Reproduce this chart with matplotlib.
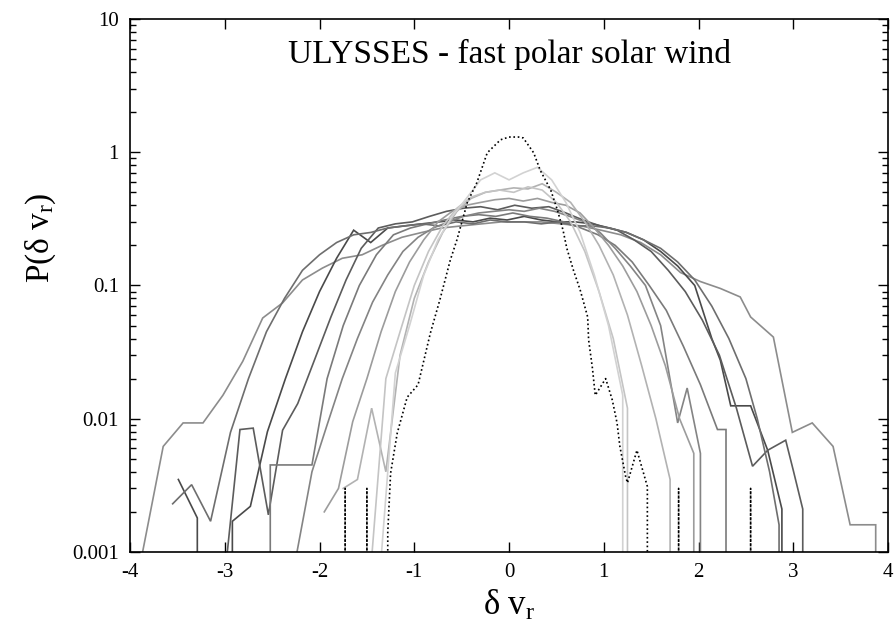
import numpy as np
import matplotlib
matplotlib.use("Agg")
import matplotlib.pyplot as plt
from matplotlib.ticker import FixedLocator, FixedFormatter, LogLocator, NullFormatter

plt.rcParams["font.family"] = ["Liberation Serif", "DejaVu Serif"]
plt.rcParams["mathtext.fontset"] = "custom"
plt.rcParams["mathtext.rm"] = "Liberation Serif"
plt.rcParams["mathtext.it"] = "Liberation Serif:italic"

# PDFs of radial velocity increments, one curve per time scale
c1_x = [-3.88, -3.65, -3.44, -3.23, -3.02, -2.81, -2.60, -2.39, -2.18, -1.97, -1.76, -1.55, -1.34,
        -1.13, -0.92, -0.71, -0.50, -0.29, -0.08, 0.13, 0.34, 0.55, 0.76, 0.97, 1.18, 1.39, 1.60,
        1.81, 2.02, 2.23, 2.44, 2.55, 2.79, 2.86, 2.99, 3.20, 3.42, 3.60, 3.87, 3.88]
c1_y = [0.0009, 0.0062, 0.0093, 0.0093, 0.015, 0.027, 0.057, 0.074, 0.11, 0.135, 0.16, 0.17, 0.20,
        0.23, 0.25, 0.27, 0.28, 0.29, 0.30, 0.30, 0.30, 0.29, 0.28, 0.26, 0.24, 0.21, 0.17,
        0.125, 0.107, 0.095, 0.082, 0.058, 0.041, 0.023, 0.0079, 0.0093, 0.0062, 0.0016, 0.0016, 0]

c2_x = [-3.49, -3.29, -3.28, -2.92, -2.73, -2.55, -2.36, -2.18, -2.00, -1.82, -1.64, -1.46, -1.28,
        -1.10, -0.92, -0.74, -0.56, -0.38, -0.20, -0.02, 0.16, 0.34, 0.52, 0.70, 0.88, 1.06, 1.24,
        1.42, 1.60, 1.78, 1.96, 2.14, 2.23, 2.34, 2.55, 2.73, 2.88, 2.89]
c2_y = [0.0035, 0.0018, 0, 0.0017, 0.0022, 0.008, 0.02, 0.045, 0.09, 0.16, 0.26, 0.21, 0.27,
        0.28, 0.29, 0.30, 0.31, 0.30, 0.32, 0.31, 0.33, 0.31, 0.30, 0.30, 0.29, 0.27, 0.25,
        0.22, 0.18, 0.14, 0.10, 0.04, 0.0275, 0.0125, 0.0125, 0.0058, 0.0021, 0]

c3_x = [-2.98, -2.84, -2.70, -2.54, -2.39, -2.23, -2.05, -1.88, -1.72, -1.56, -1.38, -1.20, -1.02,
        -0.84, -0.66, -0.48, -0.30, -0.12, 0.06, 0.24, 0.42, 0.60, 0.78, 0.96, 1.14, 1.32, 1.50,
        1.68, 1.86, 2.04, 2.22, 2.40, 2.57, 2.73, 2.92, 3.00, 3.10, 3.11]
c3_y = [0.0009, 0.0083, 0.0085, 0.0019, 0.0082, 0.0130, 0.028, 0.058, 0.11, 0.19, 0.27, 0.29, 0.30,
        0.33, 0.36, 0.38, 0.39, 0.37, 0.40, 0.38, 0.39, 0.35, 0.31, 0.28, 0.26, 0.22, 0.18,
        0.13, 0.09, 0.055, 0.03, 0.012, 0.0044, 0.0058, 0.0069, 0.0041, 0.0021, 0]

c4_x = [-2.53, -2.52, -2.30, -2.08, -1.92, -1.75, -1.58, -1.40, -1.22, -1.04, -0.86, -0.68, -0.50,
        -0.32, -0.14, 0.04, 0.22, 0.40, 0.58, 0.76, 0.94, 1.12, 1.30, 1.48, 1.66, 1.84, 2.02,
        2.20, 2.29, 2.30]
c4_y = [0, 0.0045, 0.0045, 0.0045, 0.02, 0.05, 0.10, 0.17, 0.24, 0.27, 0.29, 0.31, 0.33,
        0.34, 0.33, 0.35, 0.33, 0.32, 0.30, 0.27, 0.24, 0.20, 0.15, 0.10, 0.065, 0.035, 0.018,
        0.0083, 0.0083, 0]

c5_x = [-3.55, -3.35, -3.15, -2.94, -2.75, -2.56, -2.37, -2.18, -2.00, -1.82, -1.64, -1.46, -1.28,
        -1.10, -0.92, -0.74, -0.56, -0.38, -0.20, -0.02, 0.16, 0.34, 0.52, 0.70, 0.88, 1.06, 1.24,
        1.42, 1.60, 1.78, 1.96, 2.14, 2.32, 2.50, 2.62, 2.75, 2.85, 2.86]
c5_y = [0.0023, 0.0032, 0.0017, 0.0079, 0.02, 0.045, 0.08, 0.13, 0.17, 0.21, 0.24, 0.25, 0.27,
        0.28, 0.29, 0.28, 0.30, 0.29, 0.31, 0.30, 0.30, 0.29, 0.30, 0.28, 0.28, 0.27, 0.25,
        0.22, 0.19, 0.15, 0.11, 0.07, 0.04, 0.02, 0.01, 0.004, 0.0016, 0]

c6_x = [-2.25, -2.08, -1.92, -1.76, -1.60, -1.44, -1.28, -1.12, -0.96, -0.80, -0.64, -0.48, -0.32,
        -0.16, 0.00, 0.16, 0.32, 0.48, 0.64, 0.80, 0.96, 1.12, 1.28, 1.44, 1.60, 1.78, 1.88,
        2.02, 2.03]
c6_y = [0.0009, 0.004, 0.009, 0.02, 0.04, 0.075, 0.12, 0.18, 0.23, 0.27, 0.30, 0.33, 0.35,
        0.36, 0.37, 0.36, 0.38, 0.36, 0.33, 0.30, 0.25, 0.19, 0.14, 0.10, 0.05, 0.0093, 0.017,
        0.0055, 0]

c7_x = [-1.95, -1.80, -1.65, -1.50, -1.35, -1.20, -1.05, -0.90, -0.75, -0.60, -0.45, -0.30, -0.15,
        0.00, 0.15, 0.30, 0.45, 0.60, 0.75, 0.90, 1.05, 1.20, 1.35, 1.50, 1.65, 1.80, 1.95, 1.96]
c7_y = [0.002, 0.003, 0.0095, 0.02, 0.045, 0.09, 0.15, 0.22, 0.30, 0.36, 0.40, 0.42, 0.44,
        0.45, 0.43, 0.45, 0.42, 0.40, 0.35, 0.27, 0.20, 0.14, 0.09, 0.05, 0.025, 0.01, 0.0055, 0]

c8_x = [-1.75, -1.60, -1.45, -1.30, -1.15, -1.00, -0.85, -0.70, -0.55, -0.40, -0.25, -0.10, 0.05,
        0.20, 0.35, 0.50, 0.65, 0.80, 0.95, 1.10, 1.25, 1.40, 1.55, 1.70, 1.71]
c8_y = [0.003, 0.0035, 0.012, 0.004, 0.03, 0.08, 0.15, 0.25, 0.36, 0.45, 0.50, 0.52, 0.54,
        0.53, 0.58, 0.50, 0.42, 0.30, 0.20, 0.12, 0.06, 0.025, 0.01, 0.0035, 0]

c9_x = [-1.45, -1.30, -1.15, -1.00, -0.85, -0.70, -0.55, -0.40, -0.25, -0.10, 0.05, 0.20, 0.35,
        0.50, 0.65, 0.80, 0.95, 1.10, 1.25, 1.26]
c9_y = [0.0009, 0.02, 0.045, 0.10, 0.18, 0.28, 0.38, 0.46, 0.50, 0.52, 0.50, 0.55, 0.52,
        0.42, 0.30, 0.18, 0.09, 0.04, 0.012, 0]

c10_x = [-1.35, -1.20, -1.05, -0.90, -0.75, -0.60, -0.45, -0.30, -0.15, 0.00, 0.15, 0.30, 0.45,
         0.60, 0.75, 0.90, 1.05, 1.20, 1.21]
c10_y = [0.0009, 0.022, 0.05, 0.12, 0.22, 0.33, 0.45, 0.62, 0.70, 0.62, 0.70, 0.77, 0.62,
         0.42, 0.25, 0.12, 0.05, 0.015, 0]

dot_x = [-1.74, -1.73, -1.72, -1.51, -1.50, -1.49, -1.30, -1.28, -1.25, -1.18, -1.075, -0.96,
         -0.83, -0.73, -0.62, -0.55, -0.44, -0.34, -0.23, -0.09, 0.00, 0.10, 0.15, 0.26, 0.33,
         0.44, 0.51, 0.57, 0.61, 0.68, 0.75, 0.83, 0.84, 0.88, 0.91, 1.02, 1.09, 1.14, 1.17,
         1.23, 1.25, 1.35, 1.46, 1.47, 1.78, 1.79, 1.80, 2.54, 2.55, 2.56]
dot_y = [0, 0.003, 0, 0, 0.003, 0, 0, 0.0014, 0.0039, 0.0078, 0.0145, 0.018,
         0.044, 0.078, 0.155, 0.22, 0.42, 0.59, 0.99, 1.24, 1.30, 1.30, 1.28, 0.99, 0.73,
         0.52, 0.37, 0.26, 0.19, 0.13, 0.093, 0.058, 0.039, 0.024, 0.015, 0.020, 0.0138, 0.0093, 0.0062,
         0.0037, 0.0033, 0.0058, 0.0031, 0, 0, 0.003, 0, 0, 0.003, 0]

curves = [
    (c1_x, c1_y, "#8c8c8c"),
    (c2_x, c2_y, "#4a4a4a"),
    (c3_x, c3_y, "#5c5c5c"),
    (c4_x, c4_y, "#7a7a7a"),
    (c5_x, c5_y, "#6e6e6e"),
    (c6_x, c6_y, "#848484"),
    (c7_x, c7_y, "#9c9c9c"),
    (c8_x, c8_y, "#b2b2b2"),
    (c9_x, c9_y, "#c4c4c4"),
    (c10_x, c10_y, "#d2d2d2"),
]

fig = plt.figure(figsize=(8.95, 6.32), dpi=100)
ax = fig.add_axes([0.1453, 0.1266, 0.8469, 0.8434])

for xs, ys, col in curves:
    ax.plot(xs, ys, color=col, lw=1.2, solid_joinstyle="miter")
ax.plot(dot_x, dot_y, color="black", lw=1.2, linestyle=(0, (1, 1.6)))

ax.set_yscale("log", nonpositive="clip")
ax.set_xlim(-4, 4)
ax.set_ylim(0.001, 10)

ax.xaxis.set_major_locator(FixedLocator(np.arange(-4, 5, 1)))
ax.set_xticklabels([str(v) for v in range(-4, 5)])
ax.yaxis.set_major_locator(FixedLocator([0.001, 0.01, 0.1, 1, 10]))
ax.yaxis.set_major_formatter(FixedFormatter(["0.001", "0.01", "0.1", "1", "10"]))
ax.yaxis.set_minor_locator(LogLocator(base=10, subs=np.arange(2, 10)))
ax.yaxis.set_minor_formatter(NullFormatter())

ax.tick_params(which="both", direction="in", top=True, right=True, width=1.0, colors="black")
ax.tick_params(which="major", length=7, labelsize=15, pad=8)
ax.tick_params(which="minor", length=4)
for s in ax.spines.values():
    s.set_linewidth(1.2)

ax.text(0.0, 5.4, "ULYSSES - fast polar solar wind", fontsize=24, ha="center", va="center")

ax.set_xlabel(r"$\mathregular{\delta\ v_r}$", fontsize=25, labelpad=5)
ax.set_ylabel(r"$\mathregular{P(\delta\ v_r)}$", fontsize=24)
ax.yaxis.set_label_coords(-0.095, 0.59)

fig.savefig("out.png", dpi=100)
